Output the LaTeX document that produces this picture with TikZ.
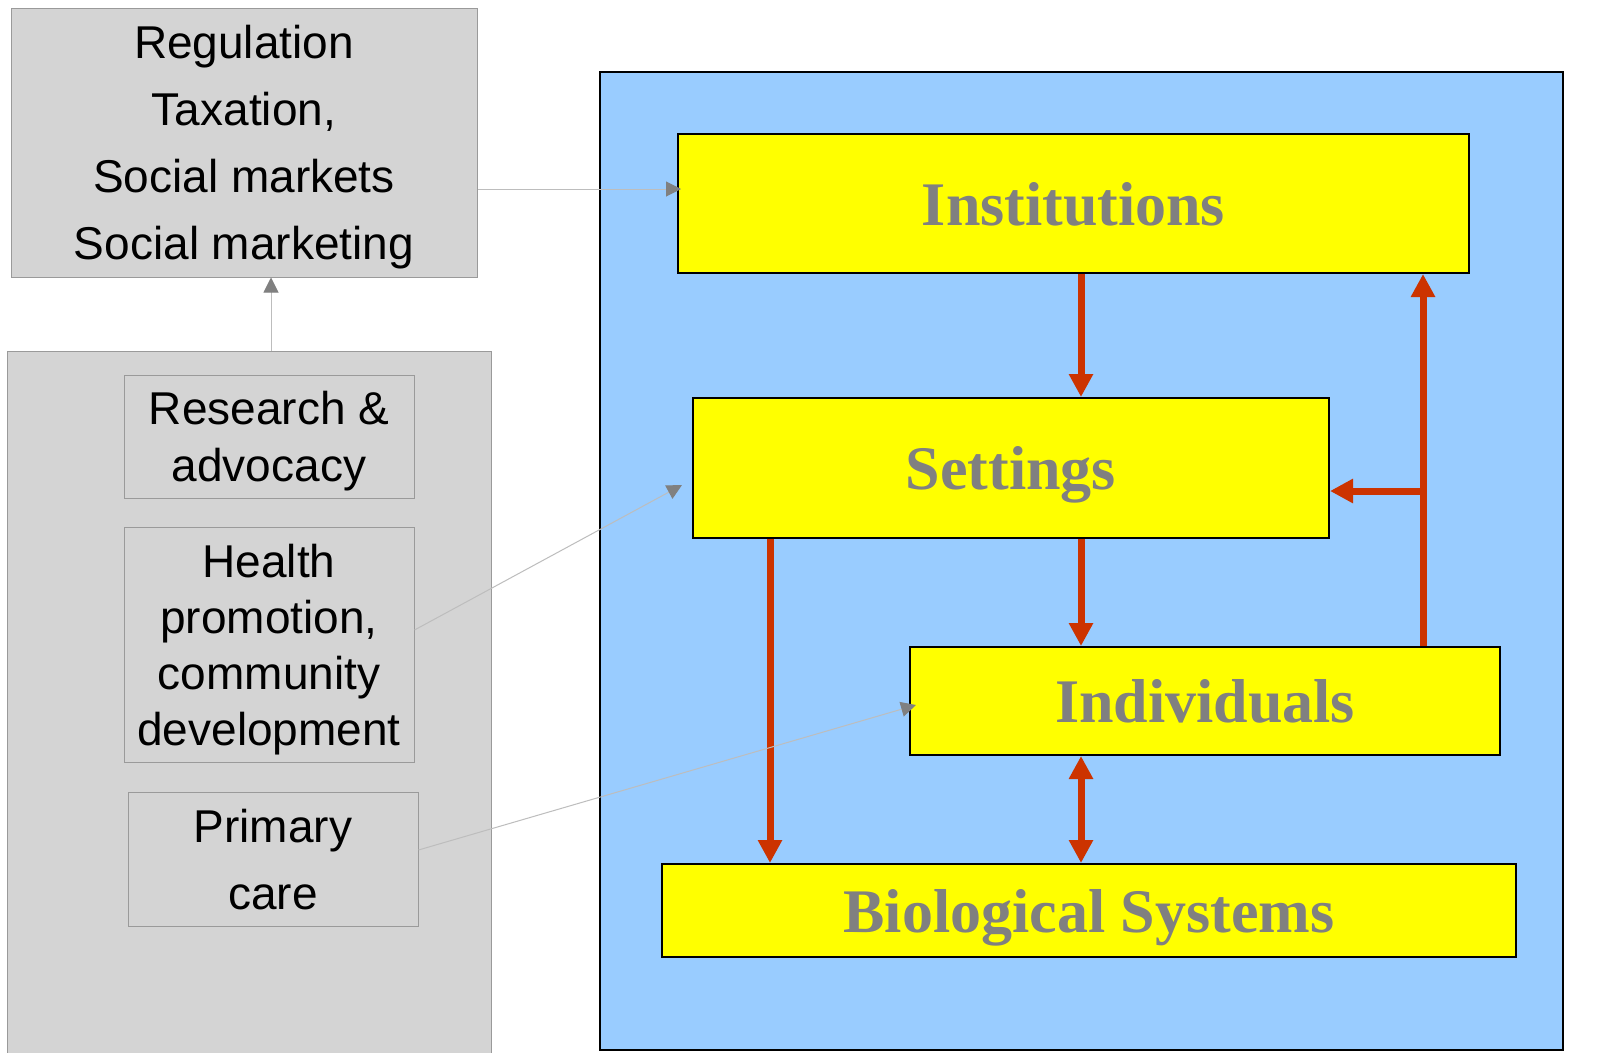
\documentclass[tikz,border=0pt]{standalone}
\usepackage{fontspec}
\setmainfont{Liberation Sans}
\newfontfamily\serifbold{Liberation Serif}
\usetikzlibrary{arrows.meta}
\definecolor{boxgray}{HTML}{D4D4D4}
\definecolor{edgegray}{HTML}{9A9A9A}
\definecolor{skyblue}{HTML}{99CCFF}
\definecolor{tipgray}{HTML}{808080}
\definecolor{linegray}{HTML}{BDBDBD}
\definecolor{redarrow}{HTML}{CC3300}
\definecolor{labelgray}{HTML}{808080}
\definecolor{boxyellow}{HTML}{FFFF00}
\tikzset{
  graybox/.style={draw=edgegray, fill=boxgray, line width=1pt, inner sep=0pt, align=center, text depth=0pt},
  yellowbox/.style={draw=black, fill=boxyellow, line width=2pt, inner sep=0pt, align=center,
     text=labelgray, text depth=0pt, font=\serifbold\bfseries\fontsize{62}{70}\selectfont},
  redlink/.style={draw=redarrow, line width=7pt, -{Triangle[length=23pt,width=23pt]}},
  redboth/.style={draw=redarrow, line width=7pt, {Triangle[length=23pt,width=23pt]}-{Triangle[length=23pt,width=23pt]}},
  graylink/.style={draw=linegray, line width=1pt, -{Triangle[length=15pt,width=15pt,color=tipgray]}},
}
\begin{document}
\begin{tikzpicture}[x=1pt,y=-1pt]
\path[fill=white] (0,0) rectangle (1616,1052);
\useasboundingbox (0,0) rectangle (1616,1052);

% left panels
\node[graybox, minimum width=466pt, minimum height=269pt,
      font=\fontsize{46}{67}\selectfont] (policy) at (244,142.5)
  {Regulation\\Taxation,\\Social markets\\Social marketing};
\node[graybox, minimum width=484pt, minimum height=720pt] (practice) at (249,711) {};
\node[graybox, minimum width=290pt, minimum height=123pt,
      font=\fontsize{46}{57}\selectfont] (research) at (269,436.5)
  {Research \&\\advocacy};
\node[graybox, minimum width=290pt, minimum height=235pt,
      font=\fontsize{46}{56}\selectfont] (health) at (269,644.5)
  {Health\\promotion,\\community\\development};
\node[graybox, minimum width=290pt, minimum height=134pt,
      font=\fontsize{46}{67}\selectfont] (primary) at (273,859)
  {Primary\\care};

% right panel
\node[draw=black, fill=skyblue, line width=2pt, inner sep=0pt,
      minimum width=963pt, minimum height=978pt] (frame) at (1081.5,561) {};
\node[yellowbox, minimum width=791pt, minimum height=139pt] (inst) at (1073.5,203.5) {Institutions};
\node[yellowbox, minimum width=636pt, minimum height=140pt] (set) at (1011,468) {Settings};
\node[yellowbox, minimum width=590pt, minimum height=108pt] (ind) at (1205,701) {Individuals};
\node[yellowbox, minimum width=854pt, minimum height=93pt] (bio) at (1089,910.5) {Biological Systems};

% helper coordinates
\coordinate (xa) at (1081,0);
\coordinate (xb) at (770,0);
\coordinate (xc) at (1423,0);
\coordinate (xd) at (271,0);
\coordinate (jn) at (1423,491);
\coordinate (ya) at (0,189);
\coordinate (sh) at (0,630);
\coordinate (th) at (682,485);
\coordinate (sp) at (0,850);
\coordinate (tp) at (916,705);

% red arrows
\draw[redlink] (inst.south -| xa) -- (set.north -| xa);
\draw[redlink] (set.south -| xa) -- (ind.north -| xa);
\draw[redlink] (set.south -| xb) -- (bio.north -| xb);
\draw[redboth] (ind.south -| xa) -- (bio.north -| xa);
\draw[redarrow, line width=7pt] (ind.north -| xc) -- (jn);
\draw[redlink] (jn) -- (inst.south -| xc);
\draw[redlink] (jn) -- (jn -| set.east);

% gray connectors
\draw[graylink] (practice.north -| xd) -- (policy.south -| xd);
\draw[graylink] (policy.east |- ya) -- ([xshift=4pt]inst.west |- ya);
\draw[graylink] (health.east |- sh) -- (th);
\draw[graylink] (primary.east |- sp) -- (tp);
\end{tikzpicture}
\end{document}
